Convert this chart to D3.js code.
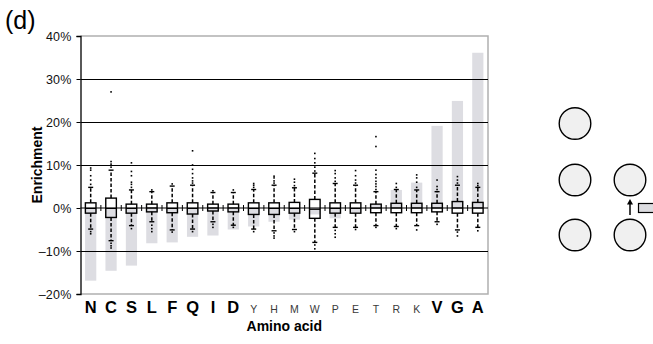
<!DOCTYPE html>
<html><head><meta charset="utf-8">
<script src="https://cdn.jsdelivr.net/npm/d3@7"></script>
<style>body{margin:0;background:#fff}svg{display:block;font-family:"Liberation Sans",Arial,sans-serif}</style>
</head><body>
<svg id="c" width="653" height="344"></svg>
<script>
const categories = ["N","C","S","L","F","Q","I","D","Y","H","M","W","P","E","T","R","K","V","G","A"];
const boldCategories = ["N","C","S","L","F","Q","I","D","V","G","A"];
const meanEnrichment = [-16.9,-14.6,-13.4,-8.2,-8.0,-6.7,-6.4,-5.0,-4.3,-3.2,-2.7,-1.5,-2.4,-1.0,0.8,4.2,5.9,19.1,24.9,36.1];
const q1 = [-1.2,-2.2,-1.2,-0.9,-1.1,-1.4,-0.7,-0.9,-1.5,-1.5,-1.2,-2.4,-1.2,-1.2,-1.1,-1.1,-1.1,-0.9,-1.2,-1.2];
const medianV = [-0.1,-0.1,-0.1,0,-0.1,-0.1,0,0,-0.1,-0.1,-0.1,-0.3,-0.1,-0.1,0,0,0,0,0,0];
const q3 = [1.2,2.3,0.9,0.9,1.2,1.2,0.9,0.9,1.2,1.2,1.3,2.0,1.2,1.2,0.9,1.1,1.1,1.1,1.5,1.3];
const whiskerLow = [-4.9,-7.6,-4.1,-3.2,-5.1,-4.9,-3.2,-4.0,-4.9,-5.3,-5.0,-8.0,-4.5,-4.5,-4.1,-4.3,-4.1,-3.2,-5.1,-4.5];
const whiskerHigh = [4.8,8.8,4.2,3.8,5.1,5.3,3.6,3.6,4.3,5.3,4.7,8.1,5.7,5.3,3.8,4.3,4.2,3.8,5.3,4.8];
const outliers = [
  [5.5,6.5,7.5,8.8,9.3,-5.5,-6.0],
  [9.5,10.2,10.8,27.0,-8.2,-8.8,-9.3],
  [4.8,5.5,6.0,7.5,8.5,10.5,-4.8],
  [4.2,-4.0,-4.8,-5.5],
  [5.6,-5.6],
  [5.8,6.3,7.0,8.0,9.0,10.0,13.3,-5.5],
  [4.0,-3.8,-4.5],
  [4.2,-4.5],
  [4.8,5.3,5.7,-5.5],
  [5.8,6.3,7.0,7.4,-5.8,-6.5,-7.0],
  [5.2,6.0,6.7,-5.5],
  [8.6,9.5,10.5,11.5,12.7,-8.6,-9.5],
  [6.2,7.0,8.0,8.7,-5.2,-6.0,-6.8],
  [5.8,6.5,7.5,8.7,-5.0],
  [4.3,5.0,5.6,6.2,7.0,7.8,8.8,14.3,16.6,-4.5],
  [4.8,5.7,-4.8],
  [4.8,6.0,7.0,7.7,-5.1],
  [4.3,5.0,6.5,-3.8],
  [5.8,6.5,7.3,-5.6,-6.5],
  [5.2,5.7,-5.3]
];
const yTicks = [-20,-10,0,10,20,30,40];
const gridValues = [-10,10,20,30];

const svg = d3.select("#c");
const L = 80.5, R = 488, T = 36, B = 294;
const x = d3.scaleBand().domain(categories).range([L, R]).paddingInner(0).paddingOuter(0);
const y = d3.scaleLinear().domain([-20, 40]).range([B, T]);
const bw = x.bandwidth();
const cx = c => x(c) + bw / 2;

// bars
svg.append("g").selectAll("rect").data(categories).join("rect")
  .attr("x", c => cx(c) - 5.6).attr("width", 11.2)
  .attr("y", (c,i) => y(Math.max(0, meanEnrichment[i])))
  .attr("height", (c,i) => Math.abs(y(meanEnrichment[i]) - y(0)))
  .attr("fill", "#dddde2");

// frame (gray top/right/bottom)
svg.append("path").attr("d", `M${L},${T}H${R}V${B}H${L}`).attr("fill","none").attr("stroke","#b0b0b0").attr("stroke-width",1.5);

// gridlines
svg.append("g").selectAll("line").data(gridValues).join("line")
  .attr("x1", L).attr("x2", R).attr("y1", d => Math.round(y(d))+0.5).attr("y2", d => Math.round(y(d))+0.5)
  .attr("stroke", "#000").attr("stroke-width", 1);

// y axis
const ya = svg.append("g").attr("transform", `translate(${L},0)`)
  .call(d3.axisLeft(y).tickValues(yTicks).tickSize(4).tickPadding(5)
    .tickFormat(d => (d < 0 ? "\u2013" : "") + Math.abs(d) + "%"));
ya.select(".domain").attr("stroke","#000").attr("stroke-width",1.3);
ya.selectAll("text").attr("font-size", 12.5).attr("font-family","Liberation Sans, Arial, sans-serif").attr("fill","#111").attr("letter-spacing","0.2px");

// boxes
const g = svg.append("g");
categories.forEach((c, i) => {
  const xc = cx(c);
  g.append("line").attr("x1", xc).attr("x2", xc).attr("y1", y(q3[i])).attr("y2", y(whiskerHigh[i]))
    .attr("stroke","#000").attr("stroke-width",1.5).attr("stroke-dasharray","3.5,2");
  g.append("line").attr("x1", xc).attr("x2", xc).attr("y1", y(q1[i])).attr("y2", y(whiskerLow[i]))
    .attr("stroke","#000").attr("stroke-width",1.5).attr("stroke-dasharray","3.5,2");
  [whiskerHigh[i], whiskerLow[i]].forEach(v => {
    g.append("line").attr("x1", xc - 2.5).attr("x2", xc + 2.5).attr("y1", y(v)).attr("y2", y(v))
      .attr("stroke","#000").attr("stroke-width",1.4);
  });
  outliers[i].forEach(v => {
    g.append("rect").attr("x", xc - 0.8).attr("y", y(v) - 0.8).attr("width", 1.6).attr("height", 1.6).attr("fill","#000");
  });
  g.append("rect").attr("x", xc - 5.3).attr("width", 10.6)
    .attr("y", y(q3[i])).attr("height", y(q1[i]) - y(q3[i]))
    .attr("fill","none").attr("stroke","#000").attr("stroke-width",1.4);
  g.append("line").attr("x1", xc - 5.3).attr("x2", xc + 5.3).attr("y1", y(medianV[i])).attr("y2", y(medianV[i]))
    .attr("stroke","#000").attr("stroke-width",1.2);
});

// category axis at 0
const y0 = y(0);
svg.append("line").attr("x1", L).attr("x2", R).attr("y1", y0).attr("y2", y0).attr("stroke","#000").attr("stroke-width",1.2);
svg.append("g").selectAll("line").data(categories.slice(1)).join("line")
  .attr("x1", c => x(c)).attr("x2", c => x(c)).attr("y1", y0 - 3).attr("y2", y0 + 3)
  .attr("stroke","#000").attr("stroke-width",1);

// category labels
svg.append("g").selectAll("text").data(categories).join("text")
  .attr("x", c => cx(c)).attr("y", 312.5).attr("text-anchor","middle")
  .attr("font-weight", c => boldCategories.includes(c) ? "bold" : "normal")
  .attr("font-size", c => boldCategories.includes(c) ? 16.5 : 10.5)
  .attr("fill", c => boldCategories.includes(c) ? "#000" : "#3a3a3a")
  .text(c => c);

// axis titles
svg.append("text").attr("x", (L+R)/2).attr("y", 331).attr("text-anchor","middle")
  .attr("font-weight","bold").attr("font-size",14).text("Amino acid");
svg.append("text").attr("transform", `translate(42,${(T+B)/2}) rotate(-90)`).attr("text-anchor","middle")
  .attr("font-weight","bold").attr("font-size",14).text("Enrichment");
svg.append("text").attr("x", 5).attr("y", 29).attr("font-size", 25).text("(d)");

// schematic on the right
const dg = svg.append("g");
[[575,123.5],[575,180],[575,235],[630,180],[630,235]].forEach(([a,b]) => {
  dg.append("circle").attr("cx",a).attr("cy",b).attr("r",15.8).attr("fill","#f0f0f0").attr("stroke","#000").attr("stroke-width",1.4);
});
dg.append("line").attr("x1",630).attr("x2",630).attr("y1",215).attr("y2",203).attr("stroke","#000").attr("stroke-width",1.5);
dg.append("path").attr("d","M627,204.5L630,199L633,204.5Z").attr("fill","#000");
dg.append("rect").attr("x",638.5).attr("y",203.5).attr("width",20).attr("height",9).attr("fill","#dcdce0").attr("stroke","#000").attr("stroke-width",1.2);
</script>
</body></html>
